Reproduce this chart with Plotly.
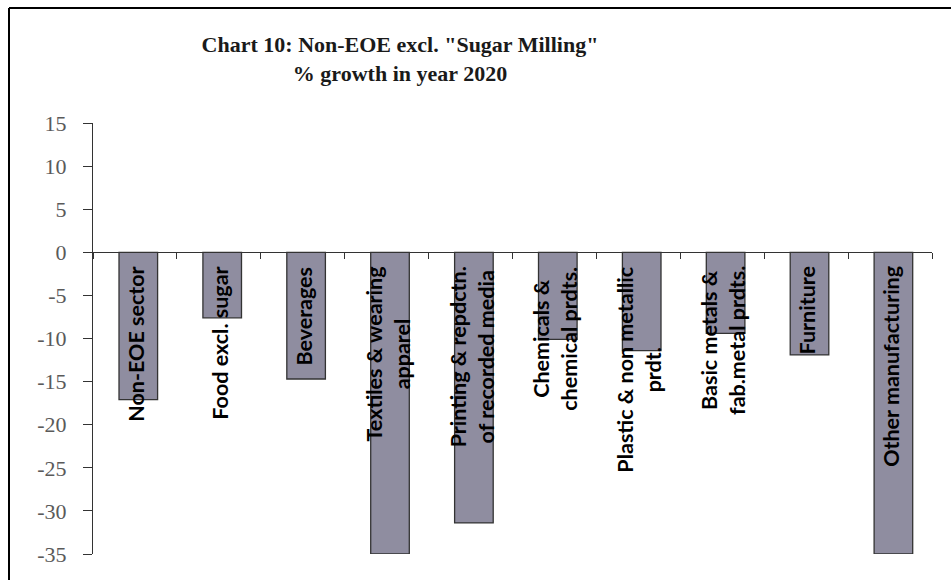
import plotly.graph_objects as go

# ---- data ----
categories = [
    "Non-EOE sector",
    "Food excl. sugar",
    "Beverages",
    "Textiles & wearing apparel",
    "Printing & repdctn. of recorded media",
    "Chemicals & chemical prdts.",
    "Plastic & non metallic prdt.",
    "Basic metals & fab.metal prdts.",
    "Furniture",
    "Other manufacturing",
]
category_labels = [
    "Non-EOE sector",
    "Food excl. sugar",
    "Beverages",
    "Textiles & wearing<br>apparel",
    "Printing & repdctn.<br>of recorded media",
    "Chemicals &<br>chemical prdts.",
    "Plastic & non metallic<br>prdt.",
    "Basic metals &<br>fab.metal prdts.",
    "Furniture",
    "Other manufacturing",
]
growth_2020 = [-17.1, -7.6, -14.7, -35.0, -31.4, -10.1, -11.4, -9.4, -11.9, -35.0]
y_tickvals = [15, 10, 5, 0, -5, -10, -15, -20, -25, -30, -35]
y_ticktext = ["15", "10", "5", "0", "-5", "-10", "-15", "-20", "-25", "-30", "-35"]
title_text = 'Chart 10: Non-EOE excl. "Sugar Milling"<br>% growth in year 2020'

W, H = 951, 580
ML, MR, MT, MB = 93, 19, 123, 26
PW, PH = W - ML - MR, H - MT - MB

fig = go.Figure()
fig.add_trace(go.Bar(
    x=categories,
    y=growth_2020,
    width=0.46,
    offset=-0.19,
    marker=dict(color="#8f8da0", line=dict(color="#333333", width=1.3)),
    showlegend=False,
))

annotations = []
for cat, lab in zip(categories, category_labels):
    annotations.append(dict(
        x=cat, y=0, xref="x", yref="y",
        text=lab, textangle=-90, showarrow=False,
        xanchor="center", yanchor="top", align="center",
        yshift=-12, xshift=1,
        font=dict(family="Lato", size=21.5, color="#000000", weight="bold"),
    ))

def px_to_paper_x(px):
    return (px - ML) / PW

def px_to_paper_y(py):
    return 1 - (py - MT) / PH

shapes = [
    dict(type="line", xref="paper", yref="paper",
         x0=px_to_paper_x(9), x1=px_to_paper_x(960),
         y0=px_to_paper_y(8), y1=px_to_paper_y(8),
         line=dict(color="#000000", width=2)),
    dict(type="line", xref="paper", yref="paper",
         x0=px_to_paper_x(9), x1=px_to_paper_x(9),
         y0=px_to_paper_y(8), y1=px_to_paper_y(590),
         line=dict(color="#000000", width=2)),
]

fig.update_layout(
    width=W, height=H,
    margin=dict(l=ML, r=MR, t=MT, b=MB),
    paper_bgcolor="white", plot_bgcolor="white",
    title=dict(
        text=title_text,
        x=px_to_paper_x(400), xref="paper", xanchor="center",
        y=1 - 52 / H, yref="container", yanchor="top",
        font=dict(family="Liberation Serif", size=22, color="#1a1a1a", weight="bold"),
    ),
    xaxis=dict(
        type="category", range=[-0.5, 9.5],
        anchor="free", position=35 / 50,
        showline=True, linecolor="#333333", linewidth=1,
        ticks="outside", ticklen=6, tickcolor="#333333", tickwidth=1,
        tickson="boundaries", showticklabels=False,
        showgrid=False, zeroline=False,
    ),
    yaxis=dict(
        range=[-35, 15], tickvals=y_tickvals, ticktext=y_ticktext,
        showline=True, linecolor="#333333", linewidth=1,
        ticks="outside", ticklen=9, tickcolor="#333333", tickwidth=1,
        ticklabelstandoff=12,
        tickfont=dict(family="Liberation Serif", size=22, color="#5a5a5a"),
        showgrid=False, zeroline=False,
    ),
    annotations=annotations,
    shapes=shapes,
    bargap=0.5,
)

fig.write_html(
    "out.html",
    config={"displayModeBar": False},
    post_script="document.body.style.margin='0px';document.body.style.padding='0px';",
)
